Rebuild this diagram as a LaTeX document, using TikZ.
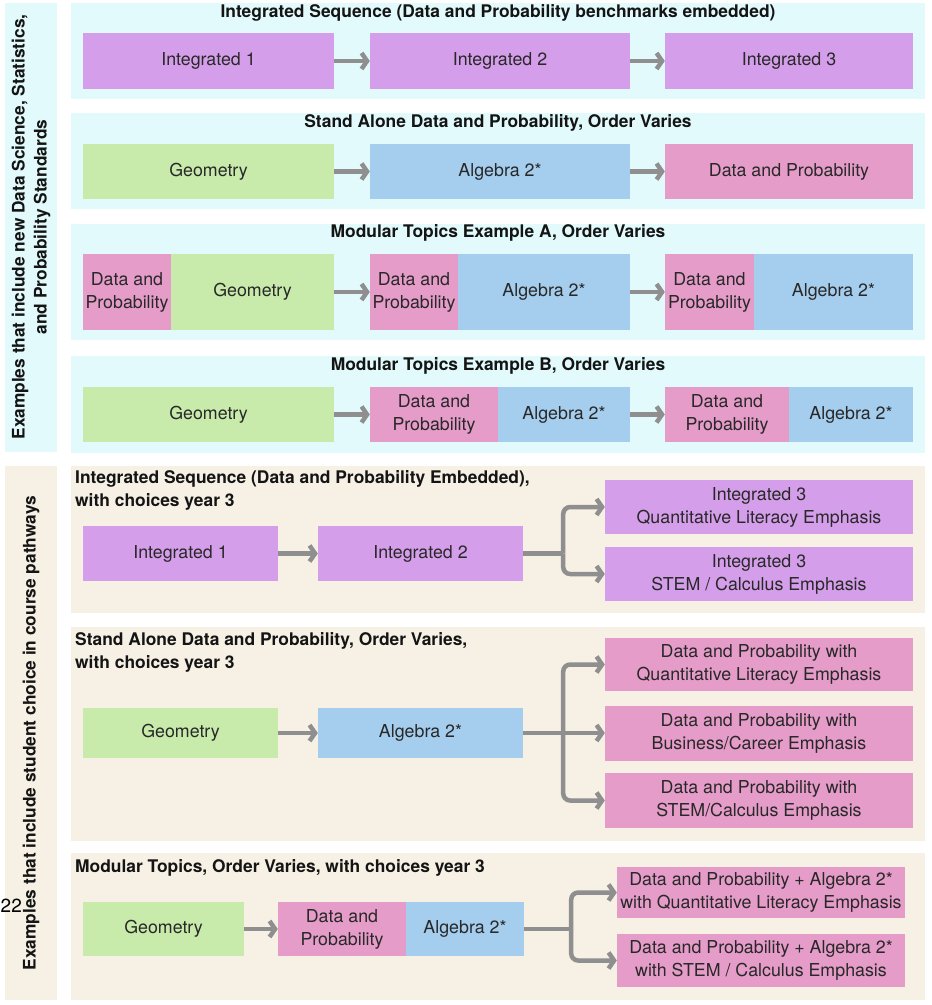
\documentclass[tikz,border=0pt]{standalone}
\usepackage{fontspec}
\setmainfont{TeX Gyre Heros}
\usetikzlibrary{arrows.meta,calc}
\definecolor{cyanbg}{RGB}{226,250,252}
\definecolor{beigebg}{RGB}{246,240,229}
\definecolor{cpurple}{RGB}{213,158,234}
\definecolor{cgreen}{RGB}{200,235,172}
\definecolor{cblue}{RGB}{165,205,237}
\definecolor{cpink}{RGB}{229,156,201}
\definecolor{agrey}{RGB}{143,143,143}
\definecolor{btext}{RGB}{40,40,40}
\definecolor{ttext}{RGB}{20,20,20}
\tikzset{
  box/.style={draw=none, inner sep=0pt, align=center, text=btext,
    font=\fontsize{17.8}{23}\selectfont},
  pu/.style={box, fill=cpurple},
  gr/.style={box, fill=cgreen},
  bl/.style={box, fill=cblue},
  pk/.style={box, fill=cpink},
  ttl/.style={inner sep=0pt, text=ttext, font=\bfseries\fontsize{17.4}{23}\selectfont},
  sidetxt/.style={inner sep=0pt, text=ttext, rotate=90, align=center,
    font=\bfseries\fontsize{17.3}{22}\selectfont},
  arr/.style={draw=agrey, line width=4.5pt, -{Straight Barb[length=5.5pt,width=16pt]}},
  conn/.style={draw=agrey, line width=4.5pt},
  connarr/.style={draw=agrey, line width=4.5pt, rounded corners=7pt, -{Straight Barb[length=5.5pt,width=16pt]}},
}
\begin{document}
\begin{tikzpicture}[x=1pt,y=-1pt]
\useasboundingbox (0,0) rectangle (932,1005);
\fill[white] (0,0) rectangle (932,1005);
% side panels
\fill[cyanbg] (5,3) rectangle (57,452);
\fill[beigebg] (5,466) rectangle (57,1000);
% row panels
\fill[cyanbg] (71,3) rectangle (925,99);
\fill[cyanbg] (71,113) rectangle (925,209);
\fill[cyanbg] (71,224) rectangle (925,340);
\fill[cyanbg] (71,356) rectangle (925,453);
\fill[beigebg] (71,466) rectangle (925,613);
\fill[beigebg] (71,627) rectangle (925,841);
\fill[beigebg] (71,853) rectangle (925,1000);
% side texts
\node[sidetxt] (s1) at (31,227) {Examples that include new Data Science, Statistics,\\and Probability Standards};
\node[sidetxt] (s2) at (31,733) {Examples that include student choice in course pathways};
\node[inner sep=0pt, anchor=west, font=\fontsize{19}{19}\selectfont] (pg) at (0.5,906) {22};
% Row 1
\node[ttl] (t1) at (498,13) {Integrated Sequence (Data and Probability benchmarks embedded)};
\node[pu, minimum width=251pt, minimum height=56pt] (r1a) at (208.5,61) {Integrated 1};
\node[pu, minimum width=260pt, minimum height=56pt] (r1b) at (500,61) {Integrated 2};
\node[pu, minimum width=248pt, minimum height=56pt] (r1c) at (789,61) {Integrated 3};
\draw[arr] (r1a.east) -- (r1b.west);
\draw[arr] (r1b.east) -- (r1c.west);
% Row 2
\node[ttl] (t2) at (498,123) {Stand Alone Data and Probability, Order Varies};
\node[gr, minimum width=251pt, minimum height=55pt] (r2a) at (208.5,171.5) {Geometry};
\node[bl, minimum width=260pt, minimum height=55pt] (r2b) at (500,171.5) {Algebra 2*};
\node[pk, minimum width=248pt, minimum height=55pt] (r2c) at (789,171.5) {Data and Probability};
\draw[arr] (r2a.east) -- (r2b.west);
\draw[arr] (r2b.east) -- (r2c.west);
% Row 3
\node[ttl] (t3) at (498,233) {Modular Topics Example A, Order Varies};
\node[pk, minimum width=88pt, minimum height=76pt] (r3a1) at (127,292) {Data and\\Probability};
\node[gr, minimum width=163pt, minimum height=76pt] (r3a2) at (252.5,292) {Geometry};
\node[pk, minimum width=88pt, minimum height=76pt] (r3b1) at (414,292) {Data and\\Probability};
\node[bl, minimum width=172pt, minimum height=76pt] (r3b2) at (544,292) {Algebra 2*};
\node[pk, minimum width=89pt, minimum height=76pt] (r3c1) at (709.5,292) {Data and\\Probability};
\node[bl, minimum width=159pt, minimum height=76pt] (r3c2) at (833.5,292) {Algebra 2*};
\draw[arr] (r3a2.east) -- (r3b1.west);
\draw[arr] (r3b2.east) -- (r3c1.west);
% Row 4
\node[ttl] (t4) at (498,366) {Modular Topics Example B, Order Varies};
\node[gr, minimum width=251pt, minimum height=55pt] (r4a) at (208.5,414.5) {Geometry};
\node[pk, minimum width=128pt, minimum height=55pt] (r4b1) at (434,414.5) {Data and\\Probability};
\node[bl, minimum width=132pt, minimum height=55pt] (r4b2) at (564,414.5) {Algebra 2*};
\node[pk, minimum width=124pt, minimum height=55pt] (r4c1) at (727,414.5) {Data and\\Probability};
\node[bl, minimum width=124pt, minimum height=55pt] (r4c2) at (851,414.5) {Algebra 2*};
\draw[arr] (r4a.east) -- (r4b1.west);
\draw[arr] (r4b2.east) -- (r4c1.west);
% Panel 5
\node[ttl, anchor=west, align=left] (t5) at (75,490.5) {Integrated Sequence (Data and Probability Embedded),\\with choices year 3};
\node[pu, minimum width=195pt, minimum height=55pt] (p5a) at (180.5,553.5) {Integrated 1};
\node[pu, minimum width=205pt, minimum height=55pt] (p5b) at (420.5,553.5) {Integrated 2};
\node[pu, minimum width=308pt, minimum height=54pt] (p5c1) at (759,507) {Integrated 3\\Quantitative Literacy Emphasis};
\node[pu, minimum width=308pt, minimum height=54pt] (p5c2) at (759,574) {Integrated 3\\STEM / Calculus Emphasis};
\coordinate (j5) at ($(p5b.east)+(40,0)$);
\draw[arr] (p5a.east) -- (p5b.west);
\draw[conn] (p5b.east) -- (j5);
\draw[connarr] (j5) |- (p5c1.west);
\draw[connarr] (j5) |- (p5c2.west);
% Panel 6
\node[ttl, anchor=west, align=left] (t6) at (75,652.5) {Stand Alone Data and Probability, Order Varies,\\with choices year 3};
\node[gr, minimum width=195pt, minimum height=50pt] (p6a) at (180.5,733) {Geometry};
\node[bl, minimum width=205pt, minimum height=50pt] (p6b) at (420.5,733) {Algebra 2*};
\node[pk, minimum width=308pt, minimum height=53pt] (p6c1) at (759,664.5) {Data and Probability with\\Quantitative Literacy Emphasis};
\node[pk, minimum width=308pt, minimum height=55pt] (p6c2) at (759,733) {Data and Probability with\\Business/Career Emphasis};
\node[pk, minimum width=308pt, minimum height=55pt] (p6c3) at (759,800.5) {Data and Probability with\\STEM/Calculus Emphasis};
\coordinate (j6) at ($(p6b.east)+(40,0)$);
\draw[arr] (p6a.east) -- (p6b.west);
\draw[arr] (p6b.east) -- (p6c2.west);
\draw[connarr] (j6) |- (p6c1.west);
\draw[connarr] (j6) |- (p6c3.west);
% Panel 7
\node[ttl, anchor=west] (t7) at (75,868) {Modular Topics, Order Varies, with choices year 3};
\node[gr, minimum width=161pt, minimum height=54pt] (p7a) at (163.5,929) {Geometry};
\node[pk, minimum width=128pt, minimum height=54pt] (p7b1) at (342,929) {Data and\\Probability};
\node[bl, minimum width=118pt, minimum height=54pt] (p7b2) at (465,929) {Algebra 2*};
\node[pk, minimum width=288pt, minimum height=51pt] (p7c1) at (761,892.5) {Data and Probability + Algebra 2*\\with Quantitative Literacy Emphasis};
\node[pk, minimum width=288pt, minimum height=53pt] (p7c2) at (761,960.5) {Data and Probability + Algebra 2*\\with STEM / Calculus Emphasis};
\coordinate (j7) at ($(p7b2.east)+(47,0)$);
\draw[arr] (p7a.east) -- (p7b1.west);
\draw[conn] (p7b2.east) -- (j7);
\draw[connarr] (j7) |- (p7c1.west);
\draw[connarr] (j7) |- (p7c2.west);
\end{tikzpicture}
\end{document}
